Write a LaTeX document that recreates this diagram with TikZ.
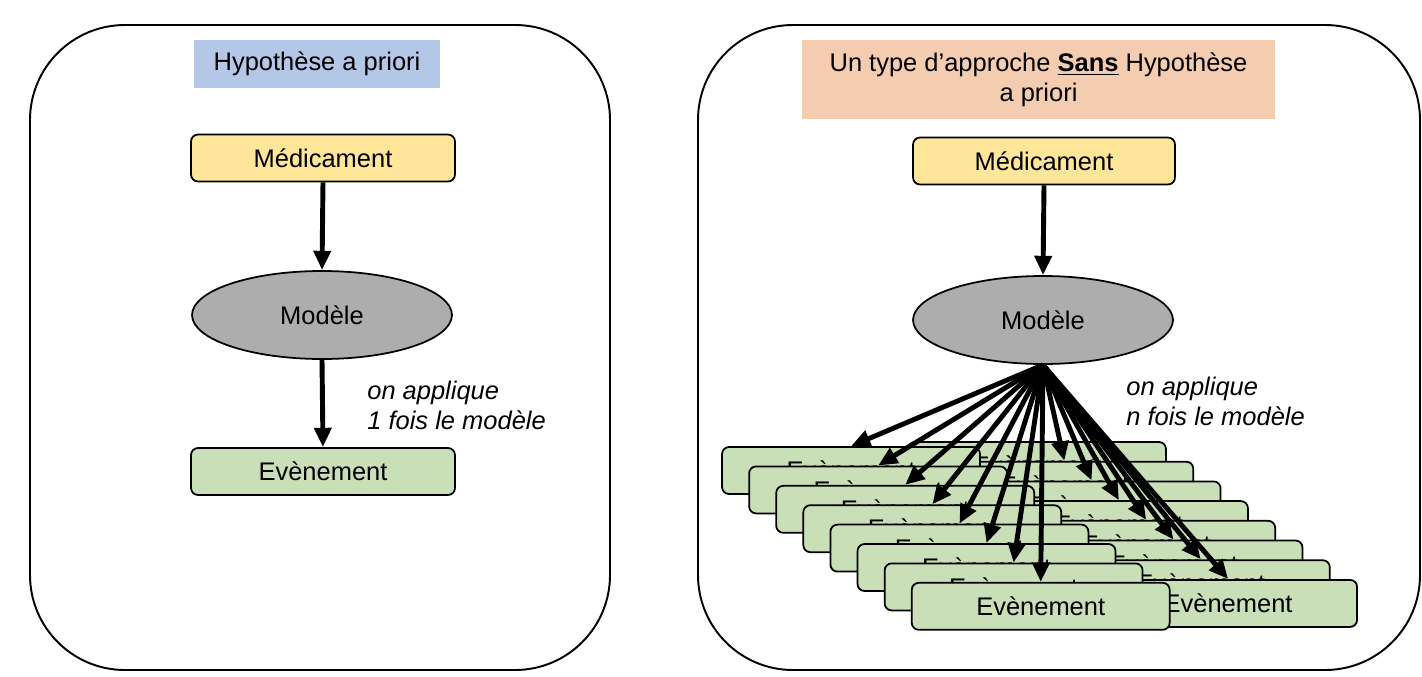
\documentclass[tikz,border=0pt]{standalone}
\usepackage{fontspec}
\setmainfont{Liberation Sans}
\usetikzlibrary{arrows.meta,shapes.geometric}
\tikzset{>={Triangle[length=11pt,width=9.5pt]}}
\definecolor{hypblue}{HTML}{B4C7E7}
\definecolor{sansorange}{HTML}{F4CCB0}
\definecolor{medyellow}{HTML}{FFE699}
\definecolor{evtgreen}{HTML}{C9DFB8}
\definecolor{modgray}{HTML}{ADADAD}
\tikzset{
  panel/.style={draw, line width=1.1pt, rounded corners=1.9cm},
  titlebox/.style={inner sep=0pt, align=center},
  flowbox/.style={draw, line width=1pt, rounded corners=4pt, inner sep=0pt, minimum height=0.94cm},
  medbox/.style={flowbox, fill=medyellow},
  evtbox/.style={flowbox, fill=evtgreen, minimum width=5.16cm},
  modellipse/.style={ellipse, draw, line width=1pt, fill=modgray, inner sep=0pt,
    minimum width=5.2cm, minimum height=1.76cm},
  link/.style={->, line width=2.8pt},
  note/.style={font=\itshape, align=left, anchor=west, inner sep=0pt}
}

\begin{document}
\fontsize{14.5}{17}\selectfont
\begin{tikzpicture}[x=0.02cm, y=-0.02cm]
\useasboundingbox (0,0) rectangle (1422,676);
% the two panels
\draw[panel] (30,25) rectangle (610,670);
\draw[panel] (698,25) rectangle (1420,670);

% left panel: one hypothesis
\node[titlebox, fill=hypblue, minimum width=4.92cm, minimum height=0.96cm] (hypL) at (317,64) {Hypothèse a priori};
\node[medbox, minimum width=5.28cm] (medL) at (323,158) {Médicament};
\node[modellipse] (modL) at (322,315) {Modèle};
\node[evtbox, minimum width=5.28cm] (evtL) at (323,471.5) {Evènement};
\draw[link] (medL.south) -- (modL.north);
\draw[link] (modL.south) -- (evtL.north);
\node[note] (noteL) at (367,405) {on applique\\1 fois le modèle};

% right panel: no hypothesis
\node[titlebox, fill=sansorange, minimum width=9.46cm, minimum height=1.58cm] (hypR) at (1038.5,79.5) {Un type d’approche \underline{\textbf{Sans}} Hypothèse\\a priori};
\node[medbox, minimum width=5.24cm] (medR) at (1044,161) {Médicament};
\node[modellipse] (modR) at (1043,320) {Modèle};
\draw[link] (medR.south) -- (modR.north);
% back stack, then front stack
\foreach \i in {0,...,7}{
  \node[evtbox] (evtB\i) at ({1037+27.3*\i},{465.5+19.7*\i}) {Evènement};
}
\foreach \i in {0,...,7}{
  \node[evtbox] (evtF\i) at ({851+27.1*\i},{470.5+19.4*\i}) {Evènement};
}
\foreach \i in {0,...,7}{
  \draw[link] (modR.south) -- (evtF\i.north);
  \ifnum\i>0
    \draw[link] (modR.south) -- (evtB\i.north);
  \fi
}
\node[note] (noteR) at (1126,401) {on applique\\n fois le modèle};
\end{tikzpicture}
\end{document}
